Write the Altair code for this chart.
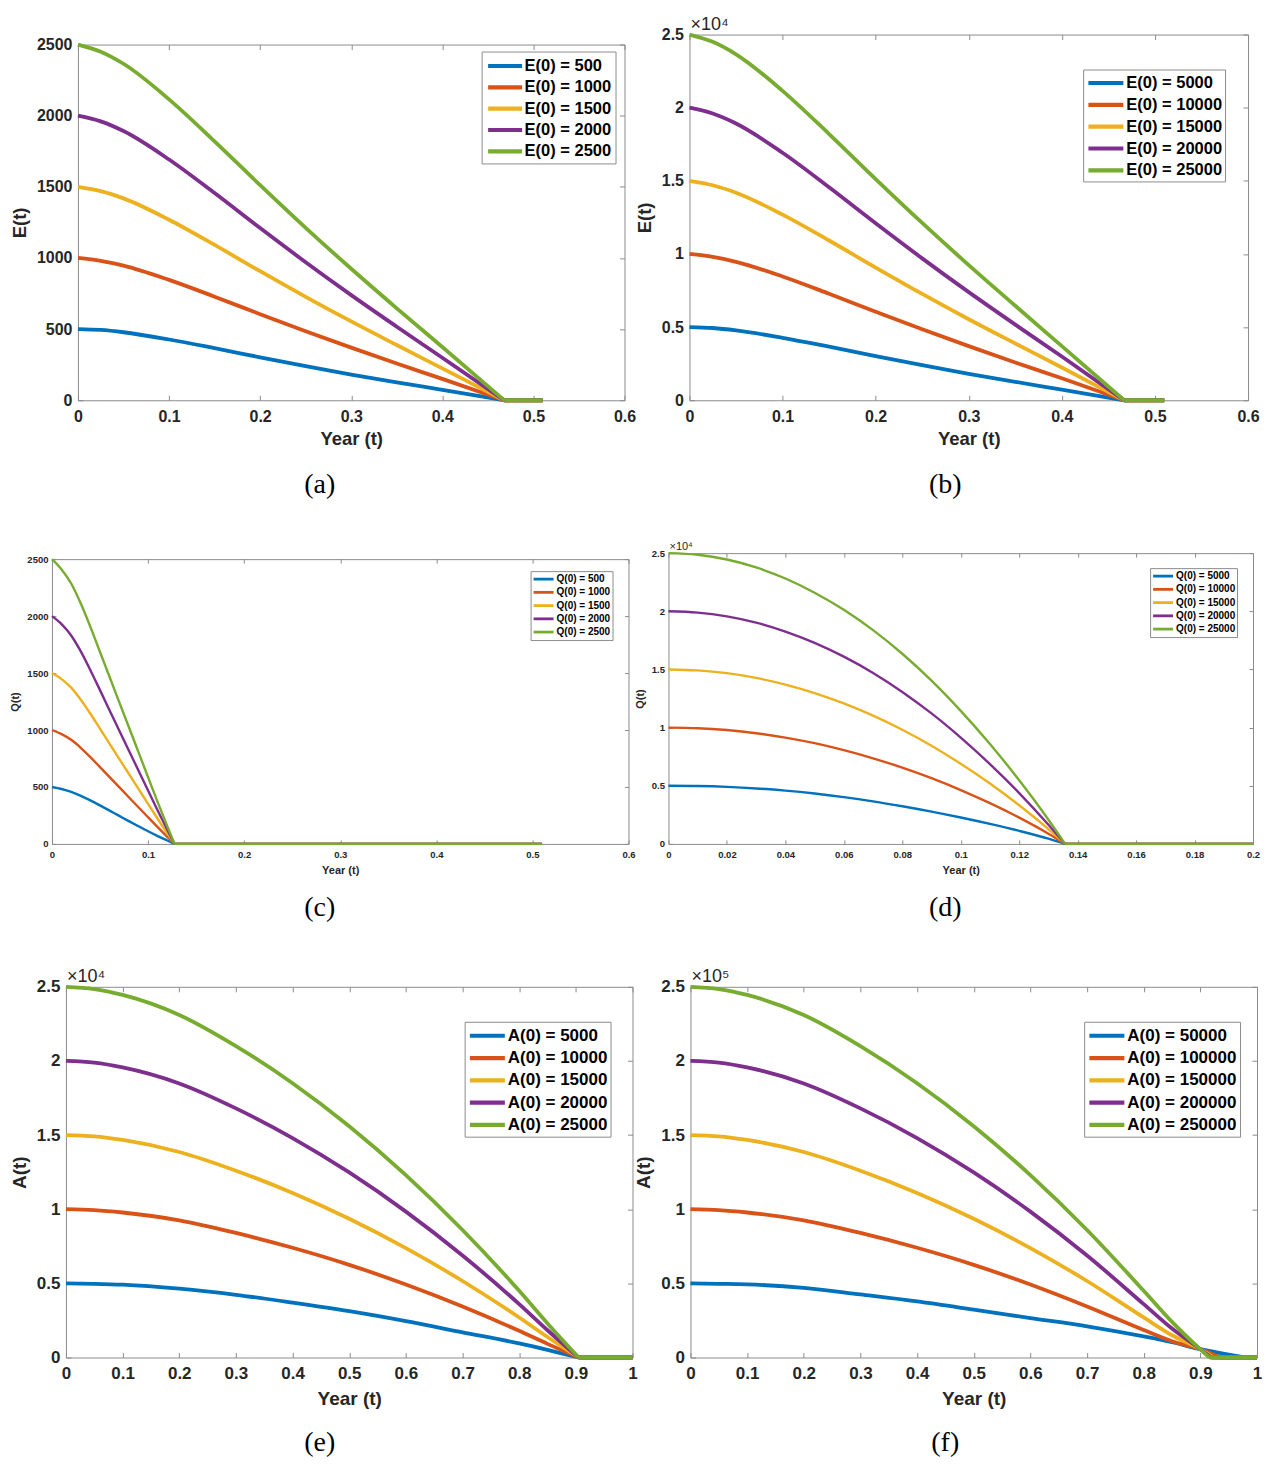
import altair as alt
import pandas as pd

# MATLAB default line colour order
LINE_COLORS = ["#0072BD", "#D95319", "#EDB120", "#7E2F8E", "#77AC30"]
FRAME = "#8c8c8c"
INK = "#262626"
SANS = "Liberation Sans"
SERIF = "Liberation Serif"

# ---------------- (a) E(t), E(0) = 500 ... 2500 ----------------
A_LABELS = ["E(0) = 500", "E(0) = 1000", "E(0) = 1500", "E(0) = 2000", "E(0) = 2500"]
A_T = [0, 0.025, 0.05, 0.1, 0.15, 0.2, 0.25, 0.3, 0.35, 0.4]
A_VALUES = [
    [500, 494, 478, 427, 366, 302, 240, 181, 126, 73],
    [1000, 980, 946, 846, 728, 605, 485, 370, 258, 150],
    [1500, 1470, 1419, 1269, 1092, 907, 727, 554, 388, 224],
    [2000, 1960, 1892, 1692, 1456, 1210, 970, 739, 517, 299],
    [2500, 2450, 2365, 2115, 1820, 1512, 1212, 924, 646, 374],
]
A_END_T = [[0.468], [0.468], [0.468], [0.468], [0.468]]
A_END_V = [[0], [0], [0], [0], [0]]
A_FLAT_TO = 0.51
A_XTICKS = [0, 0.1, 0.2, 0.3, 0.4, 0.5, 0.6]
A_YTICKS = [0, 500, 1000, 1500, 2000, 2500]

# ---------------- (b) E(t), E(0) = 5000 ... 25000 ----------------
B_LABELS = ["E(0) = 5000", "E(0) = 10000", "E(0) = 15000", "E(0) = 20000", "E(0) = 25000"]
B_T = [0, 0.025, 0.05, 0.1, 0.15, 0.2, 0.25, 0.3, 0.35, 0.4]
B_VALUES = [
    [5000, 4940, 4780, 4270, 3660, 3020, 2400, 1810, 1260, 730],
    [10000, 9800, 9460, 8460, 7280, 6050, 4850, 3700, 2580, 1500],
    [15000, 14700, 14190, 12690, 10920, 9070, 7270, 5540, 3880, 2240],
    [20000, 19600, 18920, 16920, 14560, 12100, 9700, 7390, 5170, 2990],
    [25000, 24500, 23650, 21150, 18200, 15120, 12120, 9240, 6460, 3700],
]
B_END_T = [[0.467], [0.467], [0.467], [0.467], [0.467]]
B_END_V = [[0], [0], [0], [0], [0]]
B_FLAT_TO = 0.51
B_XTICKS = [0, 0.1, 0.2, 0.3, 0.4, 0.5, 0.6]
B_YTICKS = [0, 5000, 10000, 15000, 20000, 25000]

# ---------------- (c) Q(t), Q(0) = 500 ... 2500 ----------------
C_LABELS = ["Q(0) = 500", "Q(0) = 1000", "Q(0) = 1500", "Q(0) = 2000", "Q(0) = 2500"]
C_T = [0, 0.01, 0.02, 0.03, 0.04, 0.05, 0.06, 0.07, 0.08, 0.09, 0.1, 0.11, 0.12]
C_VALUES = [
    [500, 482, 456, 422, 382, 338, 292, 246, 200, 155, 111, 69, 30],
    [1000, 964, 914, 844, 762, 674, 586, 498, 410, 322, 234, 147, 62],
    [1500, 1447, 1372, 1266, 1143, 1011, 879, 747, 616, 484, 352, 221, 93],
    [2000, 1930, 1830, 1690, 1525, 1350, 1172, 996, 820, 645, 469, 294, 124],
    [2500, 2409, 2286, 2110, 1905, 1685, 1465, 1245, 1026, 806, 586, 367, 155],
]
C_END_T = [[0.1275], [0.1275], [0.1275], [0.1275], [0.1275]]
C_END_V = [[0], [0], [0], [0], [0]]
C_FLAT_TO = 0.51
C_XTICKS = [0, 0.1, 0.2, 0.3, 0.4, 0.5, 0.6]
C_YTICKS = [0, 500, 1000, 1500, 2000, 2500]

# ---------------- (d) Q(t), Q(0) = 5000 ... 25000 ----------------
D_LABELS = ["Q(0) = 5000", "Q(0) = 10000", "Q(0) = 15000", "Q(0) = 20000", "Q(0) = 25000"]
D_T = [0, 0.01, 0.02, 0.03, 0.04, 0.05, 0.06, 0.07, 0.08, 0.09, 0.1, 0.11, 0.12, 0.13]
D_VALUES = [
    [5000, 4975, 4900, 4770, 4580, 4330, 4020, 3660, 3240, 2780, 2270, 1720, 1120, 450],
    [10000, 9950, 9790, 9520, 9140, 8660, 8060, 7360, 6560, 5650, 4630, 3500, 2260, 880],
    [15000, 14920, 14680, 14270, 13700, 12970, 12080, 11030, 9820, 8440, 6890, 5190, 3320, 1270],
    [20000, 19890, 19560, 19020, 18260, 17290, 16100, 14700, 13070, 11220, 9140, 6860, 4370, 1650],
    [25000, 24860, 24450, 23770, 22820, 21600, 20130, 18380, 16350, 14040, 11440, 8590, 5470, 2080],
]
D_END_T = [[0.1357], [0.1357], [0.1357], [0.1357], [0.1357]]
D_END_V = [[0], [0], [0], [0], [0]]
D_FLAT_TO = 0.2
D_XTICKS = [0, 0.02, 0.04, 0.06, 0.08, 0.1, 0.12, 0.14, 0.16, 0.18, 0.2]
D_YTICKS = [0, 5000, 10000, 15000, 20000, 25000]

# ---------------- (e) A(t), A(0) = 5000 ... 25000 ----------------
E_LABELS = ["A(0) = 5000", "A(0) = 10000", "A(0) = 15000", "A(0) = 20000", "A(0) = 25000"]
E_T = [0, 0.05, 0.1, 0.2, 0.3, 0.4, 0.5, 0.6, 0.7, 0.8, 0.85]
E_VALUES = [
    [5000, 4970, 4910, 4640, 4230, 3700, 3120, 2450, 1700, 950, 520],
    [10000, 9940, 9780, 9250, 8400, 7400, 6250, 4920, 3440, 1800, 920],
    [15000, 14910, 14670, 13860, 12600, 11100, 9360, 7380, 5160, 2700, 1380],
    [20000, 19880, 19560, 18480, 16800, 14800, 12480, 9840, 6880, 3600, 1840],
    [25000, 24850, 24450, 23100, 21000, 18500, 15600, 12300, 8600, 4500, 2300],
]
E_END_T = [[0.905], [0.905], [0.905], [0.905], [0.905]]
E_END_V = [[0], [0], [0], [0], [0]]
E_FLAT_TO = 1.0
E_XTICKS = [0, 0.1, 0.2, 0.3, 0.4, 0.5, 0.6, 0.7, 0.8, 0.9, 1]
E_YTICKS = [0, 5000, 10000, 15000, 20000, 25000]

# ---------------- (f) A(t), A(0) = 50000 ... 250000 ----------------
F_LABELS = ["A(0) = 50000", "A(0) = 100000", "A(0) = 150000", "A(0) = 200000", "A(0) = 250000"]
F_T = [0, 0.05, 0.1, 0.2, 0.3, 0.4, 0.5, 0.6, 0.7, 0.8, 0.85, 0.9]
F_VALUES = [
    [50000, 49700, 49300, 47000, 42500, 37800, 32300, 26600, 21000, 14200, 10300, 5600],
    [100000, 99400, 97800, 92500, 84000, 74000, 62500, 49200, 34400, 18500, 11000, 5600],
    [150000, 149100, 146700, 138600, 126000, 111000, 93600, 73800, 51600, 27000, 15000, 5600],
    [200000, 198800, 195600, 184800, 168000, 148000, 124800, 98400, 68800, 36000, 19500, 5600],
    [250000, 248500, 244500, 231000, 210000, 185000, 156000, 123000, 86000, 45000, 24000, 5500],
]
F_END_T = [[0.95, 0.98], [0.935], [0.923], [0.919], [0.916]]
F_END_V = [[1900, 0], [0], [0], [0], [0]]
F_FLAT_TO = 1.0
F_XTICKS = [0, 0.1, 0.2, 0.3, 0.4, 0.5, 0.6, 0.7, 0.8, 0.9, 1]
F_YTICKS = [0, 50000, 100000, 150000, 200000, 250000]

PANELS = {
    "a": dict(labels=A_LABELS, t=A_T, values=A_VALUES, end_t=A_END_T, end_v=A_END_V, flat_to=A_FLAT_TO,
              xticks=A_XTICKS, yticks=A_YTICKS, ydiv=1, exponent="", ytitle="E(t)"),
    "b": dict(labels=B_LABELS, t=B_T, values=B_VALUES, end_t=B_END_T, end_v=B_END_V, flat_to=B_FLAT_TO,
              xticks=B_XTICKS, yticks=B_YTICKS, ydiv=10000, exponent="×10⁴", ytitle="E(t)"),
    "c": dict(labels=C_LABELS, t=C_T, values=C_VALUES, end_t=C_END_T, end_v=C_END_V, flat_to=C_FLAT_TO,
              xticks=C_XTICKS, yticks=C_YTICKS, ydiv=1, exponent="", ytitle="Q(t)"),
    "d": dict(labels=D_LABELS, t=D_T, values=D_VALUES, end_t=D_END_T, end_v=D_END_V, flat_to=D_FLAT_TO,
              xticks=D_XTICKS, yticks=D_YTICKS, ydiv=10000, exponent="×10⁴", ytitle="Q(t)"),
    "e": dict(labels=E_LABELS, t=E_T, values=E_VALUES, end_t=E_END_T, end_v=E_END_V, flat_to=E_FLAT_TO,
              xticks=E_XTICKS, yticks=E_YTICKS, ydiv=10000, exponent="×10⁴", ytitle="A(t)"),
    "f": dict(labels=F_LABELS, t=F_T, values=F_VALUES, end_t=F_END_T, end_v=F_END_V, flat_to=F_FLAT_TO,
              xticks=F_XTICKS, yticks=F_YTICKS, ydiv=100000, exponent="×10⁵", ytitle="A(t)"),
}

# Per-panel styling; rect = plot area (left, top, width, height) in grid units
BIG = dict(tick_fs=16, title_fs=18.5, leg_fs=16.5, lw=3.8, tick=5, lpx=8, lpy=6, tpx=5, tpy=7,
           sym=17, row_pad=1.35, leg_pad=3.5, sym_in=0.5, lab_off=8.5, exp_fs=18, exp_dy=-5,
           cap_fs=28, pad_r=15)
SMALL = dict(tick_fs=9.5, title_fs=11, leg_fs=10, lw=2.4, tick=4, lpx=6, lpy=4, tpx=5, tpy=6,
             sym=10, row_pad=0.25, leg_pad=1.5, sym_in=0, lab_off=6.5, exp_fs=11, exp_dy=-3,
             cap_fs=28, pad_r=10)
LARGE = dict(BIG, tick_fs=17, title_fs=19, leg_fs=17, sym=17.5, row_pad=2.3, leg_pad=3, sym_in=0,
             lab_off=9.5, lpx=8, lpy=6, tpx=8)

STYLE = {
    "a": dict(BIG, rect=(77, 43, 547, 356), leg=(404, 7), cap_dx=-31.5),
    "b": dict(BIG, rect=(687, 33, 559, 366), leg=(394, 35), cap_dx=-23.5, sym=17.5, row_pad=1.85,
              leg_pad=2.5, lab_off=9.5),
    "c": dict(SMALL, rect=(51, 556, 577, 285), leg=(479, 12), cap_dx=-20.5),
    "d": dict(SMALL, rect=(666, 550, 585, 291), leg=(482, 15), cap_dx=-15.5, pad_r=15),
    "e": dict(LARGE, rect=(65, 982, 567, 371), leg=(399, 35), cap_dx=-29.5, pad_r=10),
    "f": dict(LARGE, rect=(688, 982, 567, 371), leg=(394, 35), cap_dx=-28.5),
}

ROWS = [("a", "b"), ("c", "d"), ("e", "f")]
ROW_BOTTOM = [506, 927, 1461]   # lower edge of each panel row (captions included)
CAP_OFFSET = -36                # caption sits inside the row's lower edge
GUTTER = 100                    # spacer size; the grid spacing is -GUTTER


def layout_boxes():
    """Extents of each panel's layout box around its plot area (left, top, right, bottom)."""
    k = max(STYLE[l]["rect"][2] + STYLE[l]["pad_r"] for l, _ in ROWS)
    boxes, prev_y, prev_ext = {}, {}, GUTTER
    for r, (lk, rk) in enumerate(ROWS):
        xl = STYLE[lk]["rect"][0]
        for side, key in ((0, lk), (1, rk)):
            x, y, w, h = STYLE[key]["rect"]
            left = x if side == 0 else x - xl + GUTTER - k
            top = y if r == 0 else y - prev_y[side] + GUTTER - prev_ext
            boxes[key] = (left, top, w + STYLE[key]["pad_r"], ROW_BOTTOM[r] - y)
        prev_ext = max(ROW_BOTTOM[r] - STYLE[key]["rect"][1] for key in (lk, rk))
        prev_y = {0: STYLE[lk]["rect"][1], 1: STYLE[rk]["rect"][1]}
    return boxes


BOXES = layout_boxes()


def series_frame(p):
    rows = []
    for k, lab in enumerate(p["labels"]):
        ts = p["t"] + p["end_t"][k]
        vs = p["values"][k] + p["end_v"][k]
        for t, v in zip(ts, vs):
            rows.append({"t": t, "v": v, "s": lab, "seg": "fall"})
        rows.append({"t": ts[-1], "v": vs[-1], "s": lab, "seg": "flat"})
        rows.append({"t": p["flat_to"], "v": 0, "s": lab, "seg": "flat"})
    return pd.DataFrame(rows)


def make_axis(orient, ticks, st, expr=None, title=None):
    kw = dict(orient=orient, values=ticks, domain=False, grid=False, ticks=True,
              tickSize=st["tick"], tickColor=FRAME, tickWidth=1, offset=-st["tick"])
    if expr is None:
        kw.update(labels=False, title=None)
    else:
        horiz = orient in ("bottom", "top")
        kw.update(labels=True, labelExpr=expr, labelFont=SANS, labelFontSize=st["tick_fs"],
                  labelFontWeight="bold", labelColor=INK, labelFlush=False, labelOverlap=False,
                  labelPadding=st["lpx"] if horiz else st["lpy"],
                  title=title, titleFont=SANS, titleFontSize=st["title_fs"], titleFontWeight="bold",
                  titleColor=INK, titlePadding=st["tpx"] if horiz else st["tpy"])
    return alt.Axis(**kw)


BOX_DF = pd.DataFrame({"k": [0]})


def fixed_box(x1, y1, x2, y2):
    # invisible rectangle that pins a view's extent inside the grid
    return alt.Chart(BOX_DF).mark_rect(opacity=0).encode(
        x=alt.value(x1), x2=alt.value(x2), y=alt.value(y1), y2=alt.value(y2)
    )


def build_panel(key):
    p, st = PANELS[key], STYLE[key]
    _, _, w, h = st["rect"]
    bl, bt, br, bb = BOXES[key]
    df = series_frame(p)
    xmax, ymax = p["xticks"][-1], p["yticks"][-1]
    xs = alt.Scale(domain=[0, xmax], nice=False, zero=False)
    ys = alt.Scale(domain=[0, ymax], nice=False, zero=False)
    yexpr = "'' + datum.value" if p["ydiv"] == 1 else f"'' + (datum.value / {p['ydiv']})"
    sym = st["sym"]
    legend = alt.Legend(
        title=None, orient="none", legendX=st["leg"][0], legendY=st["leg"][1], direction="vertical",
        symbolType="M-2,0H2", symbolSize=sym ** 2, symbolStrokeWidth=st["lw"] + 0.4,
        symbolOffset=sym / 2 + st["sym_in"],
        labelFont=SANS, labelFontSize=st["leg_fs"], labelFontWeight="bold", labelColor="black",
        labelOffset=st["lab_off"], labelLimit=400, rowPadding=st["row_pad"],
        padding=st["leg_pad"], strokeColor=FRAME, fillColor="white", cornerRadius=0,
    )
    lines = alt.Chart(df).mark_line(strokeWidth=st["lw"], interpolate="monotone").encode(
        x=alt.X("t:Q", scale=xs, axis=make_axis("bottom", p["xticks"], st, "'' + datum.value", "Year (t)")),
        y=alt.Y("v:Q", scale=ys, axis=make_axis("left", p["yticks"], st, yexpr, p["ytitle"])),
        color=alt.Color("s:N", scale=alt.Scale(domain=p["labels"], range=LINE_COLORS), legend=legend),
        detail="seg:N",
    )
    box = alt.Chart(df).mark_point(opacity=0, size=0).encode(
        x=alt.X("t:Q", axis=make_axis("top", p["xticks"], st)),
        y=alt.Y("v:Q", axis=make_axis("right", p["yticks"], st)),
    )
    layers = [fixed_box(-bl, -bt, br, bb), lines, box]
    if p["exponent"]:
        exp_df = pd.DataFrame({"t": [0], "v": [ymax], "txt": [p["exponent"]]})
        layers.append(
            alt.Chart(exp_df).mark_text(align="left", baseline="alphabetic", dx=1, dy=st["exp_dy"],
                                        font=SANS, fontSize=st["exp_fs"], color=INK).encode(
                x=alt.X("t:Q", axis=None), y=alt.Y("v:Q", axis=None), text="txt:N")
        )
    return alt.layer(*layers).resolve_axis(x="independent", y="independent").properties(
        width=w, height=h,
        view=alt.ViewBackground(stroke=FRAME, strokeWidth=1),
        title=alt.TitleParams(f"({key})", orient="bottom", anchor="middle", frame="group",
                              baseline="top", font=SERIF, fontSize=st["cap_fs"], fontWeight="normal",
                              color="black", offset=CAP_OFFSET, dx=st["cap_dx"]),
    )


def spacer(w, h):
    return fixed_box(0, 0, w, h).properties(width=w, height=h)


cells = [spacer(GUTTER, GUTTER), spacer(1, GUTTER), spacer(1, GUTTER)]
for lk, rk in ROWS:
    cells += [spacer(GUTTER, 1), build_panel(lk), build_panel(rk)]

chart = alt.concat(*cells, columns=3, spacing=-GUTTER, bounds="full", align="none").resolve_scale(
    color="independent"
).properties(padding=0, background="white").configure_view(stroke=None)

chart.save("out.html", embed_options={"renderer": "svg", "actions": False})
